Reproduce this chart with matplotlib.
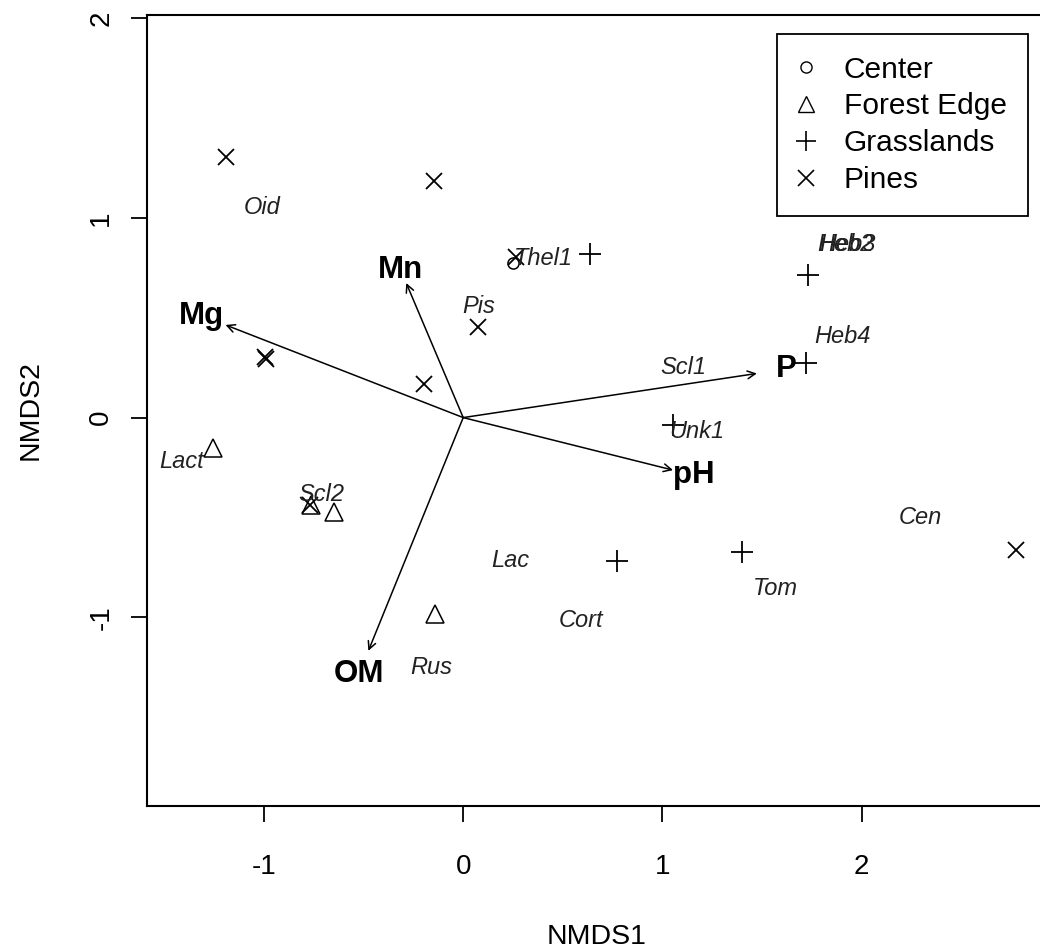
import numpy as np
import matplotlib
matplotlib.use("Agg")
from matplotlib import pyplot as plt
from matplotlib.lines import Line2D

plt.rcParams['font.family'] = ['Liberation Sans', 'DejaVu Sans']
plt.rcParams['axes.unicode_minus'] = False

# site scores by habitat
center_x = [0.251]
center_y = [0.774]
edge_x = [-1.258, -0.762, -0.647, -0.140]
edge_y = [-0.153, -0.439, -0.474, -0.985]
grass_x = [0.637, 1.729, 1.719, 1.053, 0.772, 1.398]
grass_y = [0.820, 0.714, 0.273, -0.038, -0.719, -0.674]
pines_x = [-1.188, -0.145, 0.266, 0.075, -0.995, -0.988, -0.195, -0.767, 2.772]
pines_y = [1.306, 1.185, 0.805, 0.454, 0.302, 0.294, 0.168, -0.439, -0.664]

# species scores
species = ["Oid", "Thel1", "Pis", "Heb2", "Heb3", "Heb4", "Scl1", "Unk1",
           "Lact", "Scl2", "Lac", "Cen", "Tom", "Cort", "Rus"]
sp_x = [-1.008, 0.401, 0.080, 1.920, 1.930, 1.905, 1.103, 1.173,
        -1.414, -0.712, 0.236, 2.296, 1.569, 0.591, -0.160]
sp_y = [1.050, 0.799, 0.554, 0.865, 0.865, 0.404, 0.253, -0.068,
        -0.218, -0.383, -0.714, -0.499, -0.855, -1.015, -1.250]

# fitted environmental vectors
env = ["Mn", "Mg", "P", "pH", "OM"]
env_x = [-0.286, -1.193, 1.474, 1.053, -0.476]
env_y = [0.674, 0.464, 0.221, -0.263, -1.168]

fig = plt.figure(figsize=(10.4, 9.52), dpi=100)
# plot region runs a little past the right edge of the figure
ax = fig.add_axes([147 / 1040, 1 - 806 / 952, 900 / 1040, 791 / 952])

ax.plot(center_x, center_y, linestyle='none', marker='o', ms=8,
        mfc='none', mec='black', mew=1.1)
ax.plot(edge_x, edge_y, linestyle='none', marker='^', ms=13,
        mfc='none', mec='black', mew=1.1)
ax.plot(grass_x, grass_y, linestyle='none', marker='+', ms=16,
        mec='black', mew=1.3)
ax.plot(pines_x, pines_y, linestyle='none', marker='x', ms=11,
        mec='black', mew=1.3)

for name, x, y in zip(species, sp_x, sp_y):
    ax.text(x, y, name, ha='center', va='center', fontsize=17,
            style='italic', color='#222222')

for name, x, y in zip(env, env_x, env_y):
    ax.annotate("", xy=(x, y), xytext=(0, 0),
                arrowprops=dict(arrowstyle='->', color='black', lw=1.1,
                                shrinkA=0, shrinkB=0,
                                mutation_scale=14))
    ax.text(x * 1.1, y * 1.1, name, ha='center', va='center',
            fontsize=22.5, fontweight='bold', color='black')

ax.set_xlim(-1.587, 2.93)
ax.set_ylim(-1.945, 2.016)
ax.set_xticks([-1, 0, 1, 2])
ax.set_yticks([-1, 0, 1, 2])
ax.tick_params(direction='out', length=11.5, width=1.3, labelsize=20,
               colors='black')
ax.tick_params(axis='x', pad=23)
ax.tick_params(axis='y', pad=12)
for lbl in ax.get_yticklabels():
    lbl.set_rotation(90)
    lbl.set_va('center')
for s in ax.spines.values():
    s.set_linewidth(1.5)

ax.set_xlabel("NMDS1", fontsize=20.5, va='center')
ax.set_ylabel("NMDS2", fontsize=20.5, va='center')
ax.xaxis.set_label_coords(0.5, (806 - 937) / 791)
ax.yaxis.set_label_coords((31 - 147) / 900, 0.5)

handles = [
    Line2D([], [], linestyle='none', marker='o', ms=8, mfc='none', mec='black'),
    Line2D([], [], linestyle='none', marker='^', ms=12, mfc='none', mec='black'),
    Line2D([], [], linestyle='none', marker='+', ms=15, mec='black', mew=1.2),
    Line2D([], [], linestyle='none', marker='x', ms=11, mec='black', mew=1.2),
]
leg = ax.legend(handles, ["Center", "Forest Edge", "Grasslands", "Pines"],
                loc='upper right', bbox_to_anchor=((1028 - 147) / 900, (806 - 34) / 791),
                borderaxespad=0, fontsize=21.5, fancybox=False, framealpha=1,
                edgecolor='black', handlelength=0.5, handletextpad=1.0,
                labelspacing=0.3, borderpad=0.72)
leg.get_frame().set_linewidth(1.3)

fig.savefig("out.png", dpi=100)
